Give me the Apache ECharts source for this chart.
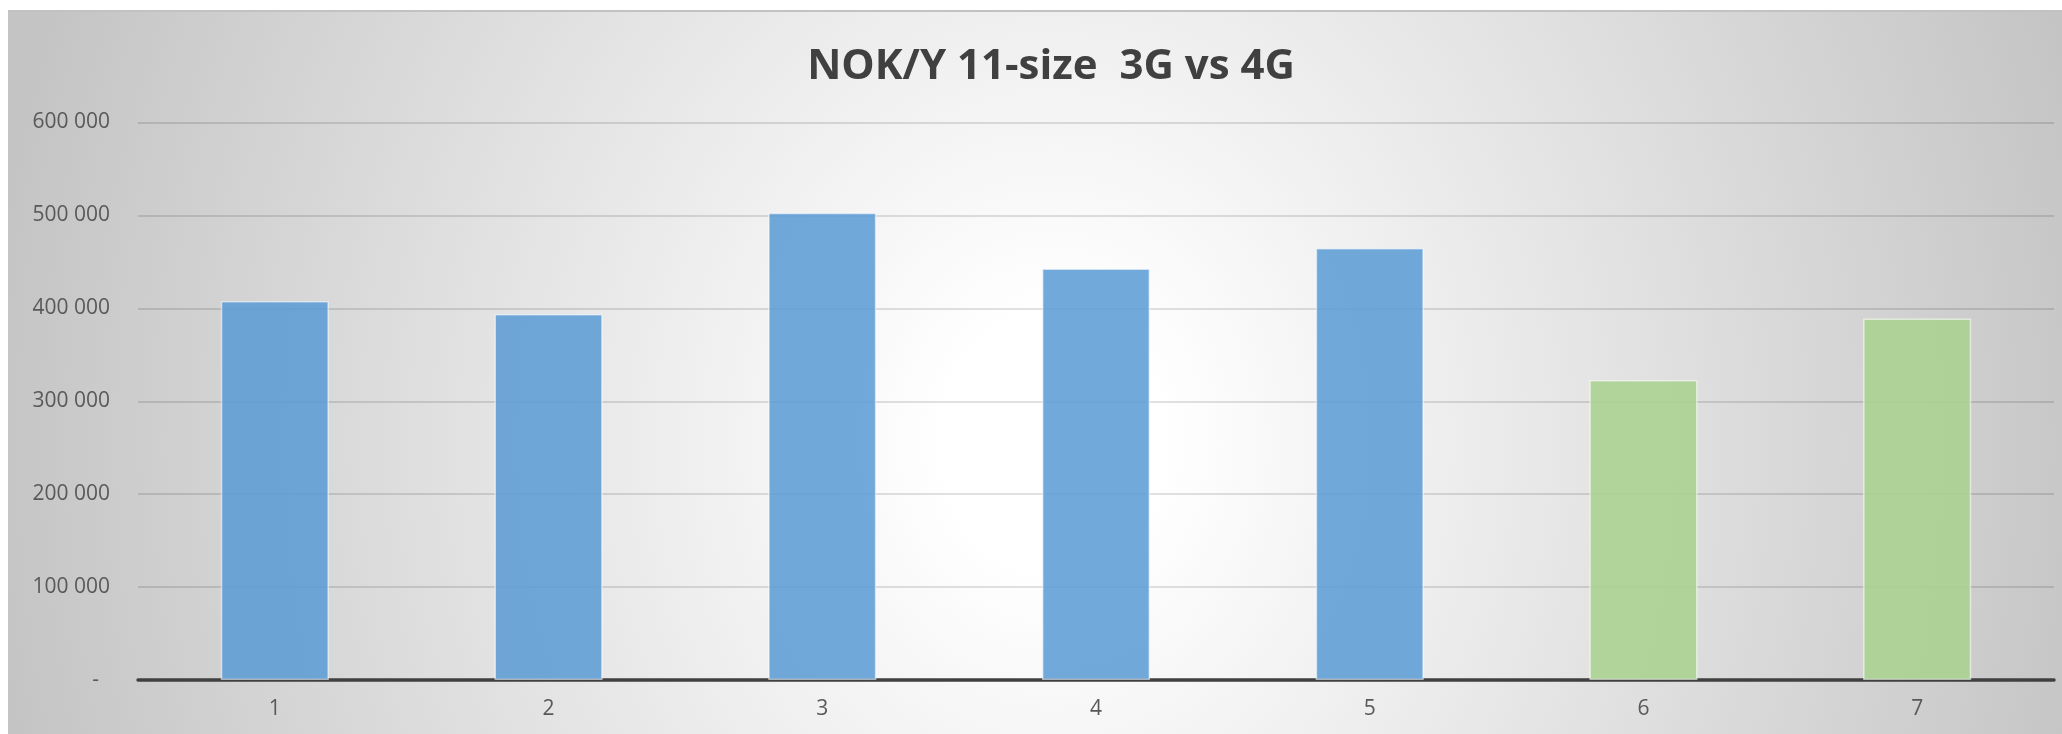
<!DOCTYPE html>
<html>
<head>
<meta charset="utf-8">
<script src="https://cdn.jsdelivr.net/npm/echarts@6/dist/echarts.min.js"></script>
<style>
html,body{margin:0;padding:0;background:#ffffff;width:2062px;height:734px;overflow:hidden;}
#bg{position:absolute;left:8px;top:10px;width:2054px;height:724px;border-top:2px solid #c2c2c2;box-sizing:border-box;
background:radial-gradient(ellipse 1070px 1250px at 1045px 430px,#ffffff 10%,#c4c4c4 100%);}
#chart{position:absolute;left:0;top:0;width:2062px;height:734px;}
</style>
</head>
<body>
<div id="bg"></div>
<div id="chart"></div>
<script>
const titleText = 'NOK/Y 11-size  3G vs 4G';
const categories = ['1','2','3','4','5','6','7'];
const values3G = [408000, 394000, 503000, 443000, 465000, '-', '-'];
const values4G = ['-', '-', '-', '-', '-', 323000, 389000];
const yTicks = [0, 100000, 200000, 300000, 400000, 500000, 600000];

function fmt(v){
  if (v === 0) return '-  ';
  return String(v).replace(/\B(?=(\d{3})+(?!\d))/g, ' ');
}

const chart = echarts.init(document.getElementById('chart'), null, {renderer:'canvas'});
chart.setOption({
  backgroundColor: 'transparent',
  animation: false,
  title: {
    text: titleText,
    left: 1046,
    top: 41,
    textAlign: 'center',
    textStyle: {fontFamily:'Open Sans', fontWeight:'bold', fontSize:42, color:'#404040'}
  },
  grid: {left:138, right:8, top:122.5, bottom:54, containLabel:false},
  xAxis: {
    type:'category',
    data: categories,
    axisLine: {show:true, lineStyle:{color:'#404040', width:3.5}},
    axisTick: {show:false},
    axisLabel: {fontFamily:'Open Sans', fontSize:21, color:'#595959', margin:19},
    splitLine: {show:false}
  },
  yAxis: {
    type:'value',
    min: yTicks[0],
    max: yTicks[yTicks.length-1],
    interval: yTicks[1]-yTicks[0],
    axisLine: {show:false},
    axisTick: {show:false},
    axisLabel: {fontFamily:'Open Sans', fontSize:21, color:'#595959', margin:28, formatter: fmt},
    splitLine: {show:true, lineStyle:{color:'rgba(0,0,0,0.16)', width:1.5}}
  },
  series: [
    {
      name:'3G', type:'bar', stack:'g', data: values3G, barWidth:'39.5%',
      itemStyle:{color:'rgba(91,155,213,0.86)', borderColor:'rgba(255,255,255,0.55)', borderWidth:1.5}
    },
    {
      name:'4G', type:'bar', stack:'g', data: values4G, barWidth:'39.5%',
      itemStyle:{color:'rgba(169,209,142,0.88)', borderColor:'rgba(255,255,255,0.55)', borderWidth:1.5}
    }
  ]
});
</script>
</body>
</html>
